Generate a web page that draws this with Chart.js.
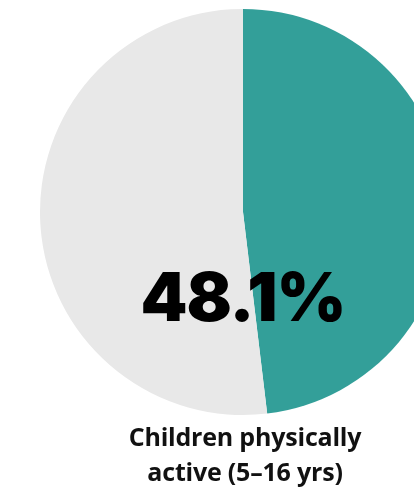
<!DOCTYPE html>
<html>
<head>
<meta charset="utf-8">
<script src="https://cdn.jsdelivr.net/npm/chart.js@4"></script>
<style>
  html, body { margin: 0; padding: 0; background: #fff; overflow: hidden; }
  body { width: 414px; height: 489px; position: relative; }
  #wrap { position: absolute; left: 0; top: 0; width: 486px; height: 424px; }
  #big {
    position: absolute; left: 0; width: 486px; top: 257px;
    text-align: center; font-family: Inter, "DejaVu Sans", sans-serif;
    font-weight: 900; font-size: 67px; letter-spacing: -1px; color: #000;
    line-height: 80px;
  }
  #label {
    position: absolute; left: 0; width: 490px; top: 419px;
    text-align: center; font-family: "Open Sans", "Noto Sans", sans-serif;
    font-weight: 700; font-size: 25px; line-height: 35px; color: #111;
    letter-spacing: -0.2px;
  }
</style>
</head>
<body>
<div id="wrap"><canvas id="pie"></canvas></div>
<div id="big">48.1%</div>
<div id="label">Children physically<br>active (5–16 yrs)</div>
<script>
const labels = ['Physically active', 'Not physically active'];
const values = [48.1, 51.9];
const colors = ['#339f99', '#e8e8e8'];

const ctx = document.getElementById('pie').getContext('2d');
new Chart(ctx, {
  type: 'pie',
  data: {
    labels: labels,
    datasets: [{
      data: values,
      backgroundColor: colors,
      borderWidth: 0
    }]
  },
  options: {
    responsive: true,
    maintainAspectRatio: false,
    animation: false,
    layout: { padding: { top: 9, bottom: 9 } },
    plugins: {
      legend: { display: false },
      tooltip: { enabled: false }
    }
  }
});
</script>
</body>
</html>
